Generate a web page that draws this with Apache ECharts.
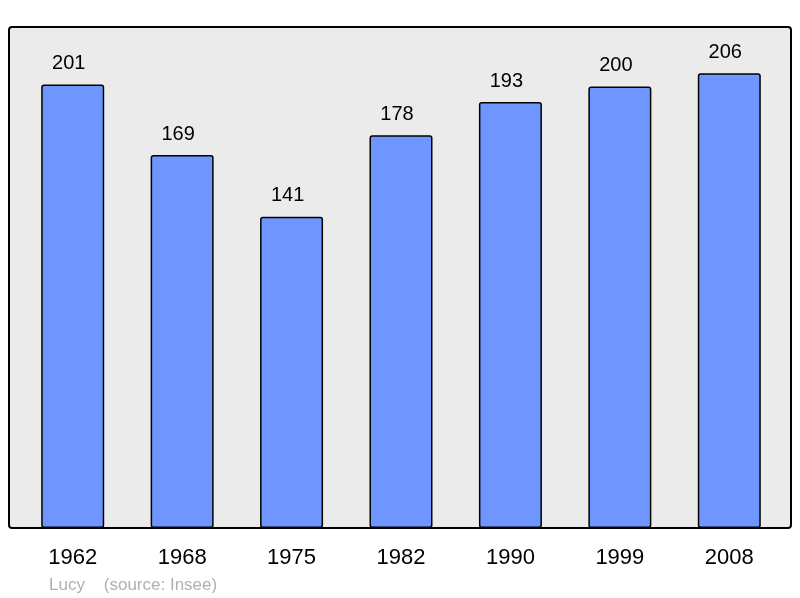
<!DOCTYPE html>
<html>
<head>
<meta charset="utf-8">
<script src="https://cdn.jsdelivr.net/npm/echarts@6/dist/echarts.min.js"></script>
<style>html,body{margin:0;padding:0;background:#fff;}#c{width:800px;height:598px;}</style>
</head>
<body>
<div id="c"></div>
<script>
var years = ['1962','1968','1975','1982','1990','1999','2008'];
var population = [201,169,141,178,193,200,206];
var footnote = 'Lucy    (source: Insee)';

var chart = echarts.init(document.getElementById('c'), null, {renderer:'canvas'});
chart.setOption({
  animation:false,
  backgroundColor:'#ffffff',
  graphic:[
    {type:'rect', shape:{x:9,y:27,width:782,height:501,r:3}, style:{fill:'#ebebeb',stroke:'#000',lineWidth:2}, z:-10, silent:true},
    {type:'text', left:49, top:577, style:{text:footnote, fill:'#b0b0b0', font:'17px "Liberation Sans", Arial, sans-serif'}}
  ],
  grid:{left:18,right:16,top:27,bottom:70,containLabel:false},
  xAxis:{type:'category', data:years,
    axisLine:{show:false}, axisTick:{show:false},
    axisLabel:{color:'#000', fontSize:22, fontFamily:'"Liberation Sans", Arial, sans-serif', margin:19}},
  yAxis:{type:'value', min:0, max:227, show:false, splitLine:{show:false}},
  series:[{type:'bar', data:population, barWidth:63,
    itemStyle:{color:'#6f96ff', borderColor:'#000', borderWidth:1.5, borderRadius:2},
    label:{show:true, position:'top', distance:11, offset:[-4,0], color:'#000', fontSize:20, fontFamily:'"Liberation Sans", Arial, sans-serif'}}]
});
</script>
</body>
</html>
